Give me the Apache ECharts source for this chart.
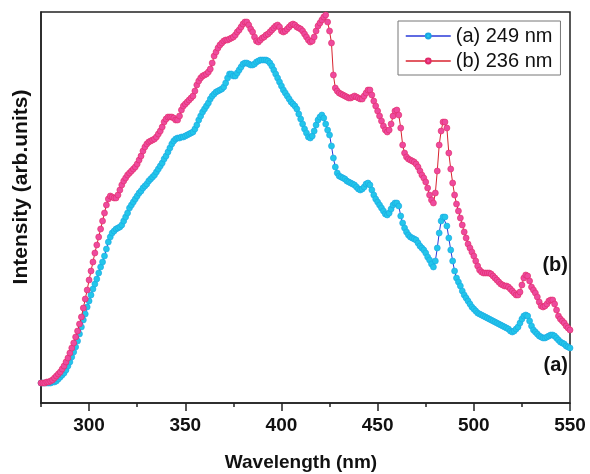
<!DOCTYPE html>
<html>
<head>
<meta charset="utf-8">
<script src="https://cdn.jsdelivr.net/npm/echarts@6/dist/echarts.min.js"></script>
<style>
  html, body { margin: 0; padding: 0; background: #fff; }
  #chart { width: 590px; height: 474px; }
</style>
</head>
<body>
<div id="chart"></div>
<script>
// Emission spectra sampled every 1 nm from 275 nm to 550 nm
const WL_START = 275;
const WL_STEP = 1;

// (a) excitation at 249 nm, intensity in arbitrary units
const intensity249 = [
  20,20,20,20,20,20,21,21,22,24,
  26,28,30,33,37,41,46,51,56,62,
  69,76,83,89,96,102,108,114,119,124,
  130,136,141,147,154,161,166,170,172,174,
  175,176,178,182,186,190,195,198,201,204,
  207,210,212,215,217,219,222,224,226,228,
  231,234,237,240,244,247,251,255,259,262,
  264,265,265,266,266,267,268,269,270,271,
  274,278,283,287,291,294,297,300,304,307,
  309,311,312,313,314,316,320,325,329,329,
  327,327,330,333,336,339,340,340,339,338,
  338,339,341,342,343,343,343,343,342,340,
  337,333,329,325,321,317,313,310,307,304,
  301,299,297,294,289,284,279,274,270,266,
  265,267,272,278,283,286,288,285,279,273,
  268,257,245,236,230,227,226,225,224,222,
  221,220,219,218,216,214,213,214,216,219,
  220,218,213,208,204,201,198,195,192,189,
  188,190,194,198,200,200,197,187,180,175,
  171,168,166,165,164,163,160,157,155,153,
  150,146,143,139,136,142,155,170,182,186,
  186,177,165,153,142,132,125,121,117,112,
  108,105,102,99,96,94,92,90,89,88,
  87,86,85,84,83,82,81,80,79,78,
  77,76,75,74,72,71,72,74,76,80,
  84,87,88,87,82,77,73,71,69,67,
  66,65,65,66,67,68,68,67,65,63,
  61,60,59,57,56,55
];

// (b) excitation at 236 nm
const intensity236 = [
  20,20,20,21,21,22,23,25,27,29,
  31,34,37,41,45,50,55,60,66,72,
  79,86,95,104,113,123,132,141,150,158,
  166,174,182,190,198,204,207,206,205,205,
  208,213,218,222,225,228,230,232,234,236,
  239,243,247,252,256,259,261,262,263,264,
  266,269,272,276,281,284,286,286,286,285,
  283,283,287,293,297,299,301,303,305,307,
  312,318,322,325,327,328,329,331,334,340,
  347,351,355,358,360,362,363,363,364,365,
  366,368,371,373,376,379,381,381,378,374,
  371,366,362,361,363,365,366,368,369,371,
  373,375,377,378,376,372,371,372,374,376,
  378,379,378,376,375,374,372,369,366,363,
  361,362,366,372,377,380,383,386,388,381,
  372,360,328,315,312,310,309,308,307,306,
  305,305,306,307,306,305,304,304,307,310,
  313,313,308,302,297,292,287,282,277,273,
  271,273,279,287,292,293,288,275,258,250,
  246,244,243,242,241,239,236,232,228,225,
  221,215,208,203,200,210,232,258,272,281,
  281,275,250,234,220,208,199,192,185,178,
  171,165,159,155,151,147,142,137,133,131,
  130,130,130,130,129,127,125,123,121,119,
  118,117,117,116,114,112,110,108,108,111,
  118,125,128,127,122,116,113,110,106,101,
  97,96,97,99,102,103,103,99,93,87,
  84,82,80,77,75,73
];

const seriesNames = ['(a) 249 nm', '(b) 236 nm'];
const curveTags = ['(a)', '(b)'];
const majorTicks = [300, 350, 400, 450, 500, 550];
const minorTicks = [275, 325, 375, 425, 475, 525];

function pairs(values) {
  return values.map((v, i) => [WL_START + i * WL_STEP, v]);
}

const FONT = '"Liberation Sans", Arial, sans-serif';
const INK = '#111';

const chart = echarts.init(document.getElementById('chart'), null, { renderer: 'canvas' });

chart.setOption({
  animation: false,
  backgroundColor: '#fff',
  grid: {
    left: 41, right: 20, top: 12, bottom: 71,
    show: true, borderColor: '#222', borderWidth: 1.5, backgroundColor: 'transparent'
  },
  xAxis: [
    {
      type: 'value', min: 275, max: 550,
      axisLine: { show: true, lineStyle: { color: '#222', width: 1.5 } },
      axisTick: { show: true, customValues: majorTicks, length: 8, lineStyle: { color: '#222', width: 1.5 } },
      axisLabel: {
        customValues: majorTicks, margin: 13,
        fontFamily: FONT, fontWeight: 'bold', fontSize: 19, color: INK
      },
      splitLine: { show: false }
    },
    {
      type: 'value', min: 275, max: 550, position: 'bottom',
      axisLine: { show: false },
      axisTick: { show: true, customValues: minorTicks, length: 4, lineStyle: { color: '#222', width: 1.5 } },
      axisLabel: { show: false },
      splitLine: { show: false }
    }
  ],
  yAxis: {
    type: 'value', min: 0, max: 391,
    axisLine: { show: true, lineStyle: { color: '#222', width: 1.5 } },
    axisTick: { show: false },
    axisLabel: { show: false },
    splitLine: { show: false }
  },
  legend: {
    orient: 'vertical',
    left: 398, top: 21,
    padding: [5, 8, 4, 7],
    itemWidth: 45, itemHeight: 6, itemGap: 5,
    borderColor: '#777', borderWidth: 1, backgroundColor: '#fff',
    lineStyle: { width: 1.5 },
    textStyle: { fontFamily: FONT, fontSize: 20, color: INK },
    data: seriesNames
  },
  series: [
    {
      name: seriesNames[0], type: 'line', xAxisIndex: 0,
      data: pairs(intensity249),
      symbol: 'circle', symbolSize: 6, showSymbol: true,
      lineStyle: { color: '#2a3ad8', width: 1 },
      itemStyle: { color: '#22c6ea', borderColor: '#1aa6e2', borderWidth: 0.6 },
      z: 2
    },
    {
      name: seriesNames[1], type: 'line', xAxisIndex: 0,
      data: pairs(intensity236),
      symbol: 'circle', symbolSize: 6, showSymbol: true,
      lineStyle: { color: '#d8232f', width: 1 },
      itemStyle: { color: '#ee4a9e', borderColor: '#e02a66', borderWidth: 0.6 },
      z: 3
    }
  ],
  graphic: [
    {
      type: 'text', x: 301, y: 463,
      style: { text: 'Wavelength (nm)', font: 'bold 19px ' + FONT, fill: INK, align: 'center', verticalAlign: 'middle' }
    },
    {
      type: 'text', x: 21, y: 187, rotation: Math.PI / 2,
      style: { text: 'Intensity (arb.units)', font: 'bold 21px ' + FONT, fill: INK, align: 'center', verticalAlign: 'middle' }
    },
    {
      type: 'text', x: 568, y: 265,
      style: { text: curveTags[1], font: 'bold 20px ' + FONT, fill: INK, align: 'right', verticalAlign: 'middle' }
    },
    {
      type: 'text', x: 568, y: 365,
      style: { text: curveTags[0], font: 'bold 20px ' + FONT, fill: INK, align: 'right', verticalAlign: 'middle' }
    }
  ]
});
</script>
</body>
</html>
